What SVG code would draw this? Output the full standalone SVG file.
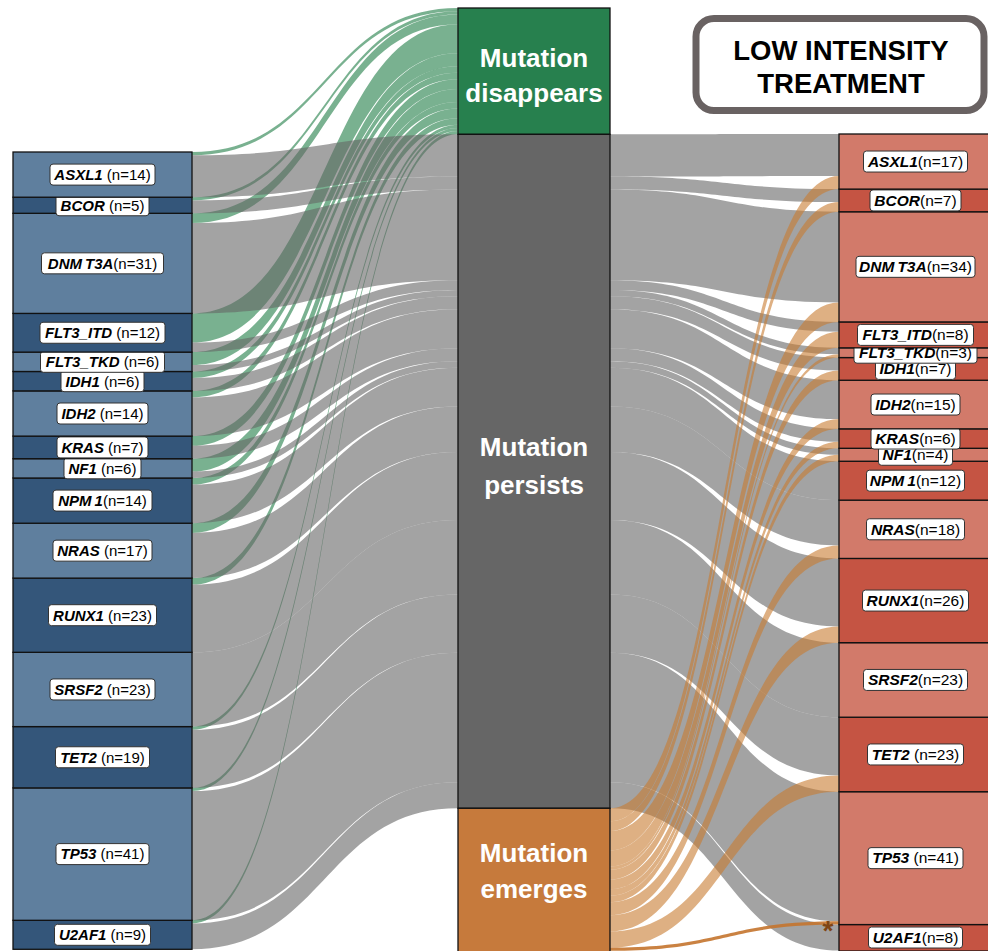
<svg xmlns="http://www.w3.org/2000/svg" width="988" height="951" viewBox="0 0 988 951">
  <style>
    .fg { fill: #1f7d46; fill-opacity: 0.6; }
    .fp { fill: #666666; fill-opacity: 0.6; }
    .fe { fill: #c87b30; fill-opacity: 0.6; }
    .fe-strong { fill: #c4742e; fill-opacity: 0.9; }
    .node { stroke: #111111; stroke-width: 1.3; }
    .bl { fill: #5f7f9e; }
    .bd { fill: #34567a; }
    .rl { fill: #d27a6a; }
    .rd { fill: #c55443; }
    .lab { fill: #ffffff; stroke: #333333; stroke-width: 1; }
    .t { font-family: "Liberation Sans", Arial, sans-serif; font-size: 15px; fill: #000000; }
    .tr { font-family: "Liberation Sans", Arial, sans-serif; font-size: 15.5px; fill: #000000; }
    .g { font-weight: bold; font-style: italic; }
    .mid { font-family: "Liberation Sans", Arial, sans-serif; font-size: 26px; font-weight: bold; fill: #ffffff; }
    .title { font-family: "Liberation Sans", Arial, sans-serif; font-size: 27.5px; font-weight: bold; fill: #000000; }
  </style>

  <!-- flows between the columns -->
  <g id="connectors">
    <g id="flows-disappear">
      <path class="fg" d="M192,152C325,152 325,8 458,8L458,11.24C325,11.24 325,155.2 192,155.2Z"/>
      <path class="fg" d="M192,197.2C325,197.2 325,11.24 458,11.24L458,14.48C325,14.48 325,200.4 192,200.4Z"/>
      <path class="fg" d="M192,213.3C325,213.3 325,14.48 458,14.48L458,24.2C325,24.2 325,223 192,223Z"/>
      <path class="fg" d="M192,313.4C325,313.4 325,24.2 458,24.2L458,53.36C325,53.36 325,342.5 192,342.5Z"/>
      <path class="fg" d="M192,352.1C325,352.1 325,53.36 458,53.36L458,66.32C325,66.32 325,365 192,365Z"/>
      <path class="fg" d="M192,371.5C325,371.5 325,66.32 458,66.32L458,72.8C325,72.8 325,378 192,378Z"/>
      <path class="fg" d="M192,390.9C325,390.9 325,72.8 458,72.8L458,79.28C325,79.28 325,397.4 192,397.4Z"/>
      <path class="fg" d="M192,436.1C325,436.1 325,79.28 458,79.28L458,89C325,89 325,445.8 192,445.8Z"/>
      <path class="fg" d="M192,458.7C325,458.7 325,89 458,89L458,101.96C325,101.96 325,471.6 192,471.6Z"/>
      <path class="fg" d="M192,478C325,478 325,101.96 458,101.96L458,108.44C325,108.44 325,484.5 192,484.5Z"/>
      <path class="fg" d="M192,523.2C325,523.2 325,108.44 458,108.44L458,118.16C325,118.16 325,532.9 192,532.9Z"/>
      <path class="fg" d="M192,578.1C325,578.1 325,118.16 458,118.16L458,124.64C325,124.64 325,584.6 192,584.6Z"/>
      <path class="fg" d="M192,726.6C325,726.6 325,124.64 458,124.64L458,127.88C325,127.88 325,729.8 192,729.8Z"/>
      <path class="fg" d="M192,787.9C325,787.9 325,127.88 458,127.88L458,131.12C325,131.12 325,791.1 192,791.1Z"/>
      <path class="fg" d="M192,920.3C325,920.3 325,131.12 458,131.12L458,134.36C325,134.36 325,923.5 192,923.5Z"/>
    </g>
    <g id="flows-persist-in">
      <path class="fp" d="M192,155.2C325,155.2 325,134.36 458,134.36L458,176.48C325,176.48 325,197.2 192,197.2Z"/>
      <path class="fp" d="M192,200.4C325,200.4 325,176.48 458,176.48L458,189.44C325,189.44 325,213.3 192,213.3Z"/>
      <path class="fp" d="M192,223C325,223 325,189.44 458,189.44L458,280.16C325,280.16 325,313.4 192,313.4Z"/>
      <path class="fp" d="M192,342.5C325,342.5 325,280.16 458,280.16L458,289.88C325,289.88 325,352.1 192,352.1Z"/>
      <path class="fp" d="M192,365C325,365 325,289.88 458,289.88L458,296.36C325,296.36 325,371.5 192,371.5Z"/>
      <path class="fp" d="M192,378C325,378 325,296.36 458,296.36L458,309.32C325,309.32 325,390.9 192,390.9Z"/>
      <path class="fp" d="M192,397.4C325,397.4 325,309.32 458,309.32L458,348.2C325,348.2 325,436.1 192,436.1Z"/>
      <path class="fp" d="M192,445.8C325,445.8 325,348.2 458,348.2L458,361.16C325,361.16 325,458.7 192,458.7Z"/>
      <path class="fp" d="M192,471.6C325,471.6 325,361.16 458,361.16L458,367.64C325,367.64 325,478 192,478Z"/>
      <path class="fp" d="M192,484.5C325,484.5 325,367.64 458,367.64L458,406.52C325,406.52 325,523.2 192,523.2Z"/>
      <path class="fp" d="M192,532.9C325,532.9 325,406.52 458,406.52L458,451.88C325,451.88 325,578.1 192,578.1Z"/>
      <path class="fp" d="M192,584.6C325,584.6 325,451.88 458,451.88L458,519.92C325,519.92 325,652.3 192,652.3Z"/>
      <path class="fp" d="M192,652.3C325,652.3 325,519.92 458,519.92L458,594.44C325,594.44 325,726.6 192,726.6Z"/>
      <path class="fp" d="M192,729.8C325,729.8 325,594.44 458,594.44L458,652.76C325,652.76 325,787.9 192,787.9Z"/>
      <path class="fp" d="M192,791.1C325,791.1 325,652.76 458,652.76L458,782.36C325,782.36 325,920.3 192,920.3Z"/>
      <path class="fp" d="M192,923.5C325,923.5 325,782.36 458,782.36L458,808.28C325,808.28 325,949.3 192,949.3Z"/>
    </g>
    <g id="flows-persist-out">
      <path class="fp" d="M610,134.36C724.5,134.36 724.5,134 839,134L839,176.12C724.5,176.12 724.5,176.48 610,176.48Z"/>
      <path class="fp" d="M610,176.48C724.5,176.48 724.5,189.08 839,189.08L839,202.04C724.5,202.04 724.5,189.44 610,189.44Z"/>
      <path class="fp" d="M610,189.44C724.5,189.44 724.5,211.76 839,211.76L839,302.48C724.5,302.48 724.5,280.16 610,280.16Z"/>
      <path class="fp" d="M610,280.16C724.5,280.16 724.5,321.92 839,321.92L839,331.64C724.5,331.64 724.5,289.88 610,289.88Z"/>
      <path class="fp" d="M610,289.88C724.5,289.88 724.5,347.84 839,347.84L839,354.32C724.5,354.32 724.5,296.36 610,296.36Z"/>
      <path class="fp" d="M610,296.36C724.5,296.36 724.5,357.56 839,357.56L839,370.52C724.5,370.52 724.5,309.32 610,309.32Z"/>
      <path class="fp" d="M610,309.32C724.5,309.32 724.5,380.24 839,380.24L839,419.12C724.5,419.12 724.5,348.2 610,348.2Z"/>
      <path class="fp" d="M610,348.2C724.5,348.2 724.5,428.84 839,428.84L839,441.8C724.5,441.8 724.5,361.16 610,361.16Z"/>
      <path class="fp" d="M610,361.16C724.5,361.16 724.5,448.28 839,448.28L839,454.76C724.5,454.76 724.5,367.64 610,367.64Z"/>
      <path class="fp" d="M610,367.64C724.5,367.64 724.5,461.24 839,461.24L839,500.12C724.5,500.12 724.5,406.52 610,406.52Z"/>
      <path class="fp" d="M610,406.52C724.5,406.52 724.5,500.12 839,500.12L839,545.48C724.5,545.48 724.5,451.88 610,451.88Z"/>
      <path class="fp" d="M610,451.88C724.5,451.88 724.5,558.44 839,558.44L839,626.48C724.5,626.48 724.5,519.92 610,519.92Z"/>
      <path class="fp" d="M610,519.92C724.5,519.92 724.5,642.68 839,642.68L839,717.2C724.5,717.2 724.5,594.44 610,594.44Z"/>
      <path class="fp" d="M610,594.44C724.5,594.44 724.5,717.2 839,717.2L839,775.52C724.5,775.52 724.5,652.76 610,652.76Z"/>
      <path class="fp" d="M610,652.76C724.5,652.76 724.5,791.72 839,791.72L839,921.32C724.5,921.32 724.5,782.36 610,782.36Z"/>
      <path class="fp" d="M610,782.36C724.5,782.36 724.5,924.56 839,924.56L839,950.48C724.5,950.48 724.5,808.28 610,808.28Z"/>
    </g>
    <g id="flows-emerge">
      <path class="fe" d="M610,808.28C724.5,808.28 724.5,176.12 839,176.12L839,189.08C724.5,189.08 724.5,821.24 610,821.24Z"/>
      <path class="fe" d="M610,821.24C724.5,821.24 724.5,202.04 839,202.04L839,211.76C724.5,211.76 724.5,830.96 610,830.96Z"/>
      <path class="fe" d="M610,830.96C724.5,830.96 724.5,302.48 839,302.48L839,321.92C724.5,321.92 724.5,850.4 610,850.4Z"/>
      <path class="fe" d="M610,850.4C724.5,850.4 724.5,331.64 839,331.64L839,347.84C724.5,347.84 724.5,866.6 610,866.6Z"/>
      <path class="fe" d="M610,866.6C724.5,866.6 724.5,354.32 839,354.32L839,357.56C724.5,357.56 724.5,869.84 610,869.84Z"/>
      <path class="fe" d="M610,869.84C724.5,869.84 724.5,370.52 839,370.52L839,380.24C724.5,380.24 724.5,879.56 610,879.56Z"/>
      <path class="fe" d="M610,879.56C724.5,879.56 724.5,419.12 839,419.12L839,428.84C724.5,428.84 724.5,889.28 610,889.28Z"/>
      <path class="fe" d="M610,889.28C724.5,889.28 724.5,441.8 839,441.8L839,448.28C724.5,448.28 724.5,895.76 610,895.76Z"/>
      <path class="fe" d="M610,895.76C724.5,895.76 724.5,454.76 839,454.76L839,461.24C724.5,461.24 724.5,902.24 610,902.24Z"/>
      <path class="fe" d="M610,902.24C724.5,902.24 724.5,545.48 839,545.48L839,558.44C724.5,558.44 724.5,915.2 610,915.2Z"/>
      <path class="fe" d="M610,915.2C724.5,915.2 724.5,626.48 839,626.48L839,642.68C724.5,642.68 724.5,931.4 610,931.4Z"/>
      <path class="fe" d="M610,931.4C724.5,931.4 724.5,775.52 839,775.52L839,791.72C724.5,791.72 724.5,947.6 610,947.6Z"/>
      <path class="fe-strong" d="M610,947.6C724.5,947.6 724.5,921.32 839,921.32L839,924.56C724.5,924.56 724.5,950.84 610,950.84Z"/>
    </g>
  </g>

  <!-- middle column -->
  <g id="node-disappears">
    <rect class="node" x="458" y="8" width="152" height="126.36" fill="#27804e"/>
    <text class="mid" x="534" y="67" text-anchor="middle">Mutation</text>
    <text class="mid" x="534" y="102" text-anchor="middle">disappears</text>
  </g>
  <g id="node-persists">
    <rect class="node" x="458" y="134.36" width="152" height="673.92" fill="#666666"/>
    <text class="mid" x="534" y="456" text-anchor="middle">Mutation</text>
    <text class="mid" x="534" y="494" text-anchor="middle">persists</text>
  </g>
  <g id="node-emerges">
    <rect class="node" x="458" y="808.28" width="152" height="150" fill="#c67a3c"/>
    <text class="mid" x="534" y="862" text-anchor="middle">Mutation</text>
    <text class="mid" x="534" y="898" text-anchor="middle">emerges</text>
  </g>

  <!-- left column (before treatment) -->
  <g id="left-U2AF1"><rect class="node bd" x="13" y="920.3" width="179" height="29"/><rect class="lab" x="54.5" y="924.3" width="96" height="21" rx="3"/><text class="t" x="102.5" y="940.1" text-anchor="middle"><tspan class="g">U2AF1</tspan> (n=9)</text></g>
  <g id="left-TP53"><rect class="node bl" x="13" y="787.9" width="179" height="132.4"/><rect class="lab" x="56" y="843.6" width="93" height="21" rx="3"/><text class="t" x="102.5" y="859.4" text-anchor="middle"><tspan class="g">TP53</tspan> (n=41)</text></g>
  <g id="left-TET2"><rect class="node bd" x="13" y="726.6" width="179" height="61.3"/><rect class="lab" x="55.5" y="746.75" width="94" height="21" rx="3"/><text class="t" x="102.5" y="762.55" text-anchor="middle"><tspan class="g">TET2</tspan> (n=19)</text></g>
  <g id="left-SRSF2"><rect class="node bl" x="13" y="652.3" width="179" height="74.3"/><rect class="lab" x="50" y="678.95" width="105" height="21" rx="3"/><text class="t" x="102.5" y="694.75" text-anchor="middle"><tspan class="g">SRSF2</tspan> (n=23)</text></g>
  <g id="left-RUNX1"><rect class="node bd" x="13" y="578.1" width="179" height="74.2"/><rect class="lab" x="48.5" y="604.7" width="108" height="21" rx="3"/><text class="t" x="102.5" y="620.5" text-anchor="middle"><tspan class="g">RUNX1</tspan> (n=23)</text></g>
  <g id="left-NRAS"><rect class="node bl" x="13" y="523.2" width="179" height="54.9"/><rect class="lab" x="53" y="540.15" width="99" height="21" rx="3"/><text class="t" x="102.5" y="555.95" text-anchor="middle"><tspan class="g">NRAS</tspan> (n=17)</text></g>
  <g id="left-NPM1"><rect class="node bd" x="13" y="478" width="179" height="45.2"/><rect class="lab" x="53" y="490.1" width="99" height="21" rx="3"/><text class="t" x="102.5" y="505.9" text-anchor="middle"><tspan class="g">NPM</tspan><tspan class="g" dx="3">1</tspan>(n=14)</text></g>
  <g id="left-NF1"><rect class="node bl" x="13" y="458.7" width="179" height="19.3"/><rect class="lab" x="64" y="457.85" width="77" height="21" rx="3"/><text class="t" x="102.5" y="473.65" text-anchor="middle"><tspan class="g">NF1</tspan> (n=6)</text></g>
  <g id="left-KRAS"><rect class="node bd" x="13" y="436.1" width="179" height="22.6"/><rect class="lab" x="57" y="436.9" width="91" height="21" rx="3"/><text class="t" x="102.5" y="452.7" text-anchor="middle"><tspan class="g">KRAS</tspan> (n=7)</text></g>
  <g id="left-IDH2"><rect class="node bl" x="13" y="390.9" width="179" height="45.2"/><rect class="lab" x="57" y="403" width="91" height="21" rx="3"/><text class="t" x="102.5" y="418.8" text-anchor="middle"><tspan class="g">IDH2</tspan> (n=14)</text></g>
  <g id="left-IDH1"><rect class="node bd" x="13" y="371.5" width="179" height="19.4"/><rect class="lab" x="61" y="370.7" width="83" height="21" rx="3"/><text class="t" x="102.5" y="386.5" text-anchor="middle"><tspan class="g">IDH1</tspan> (n=6)</text></g>
  <g id="left-FLT3_TKD"><rect class="node bl" x="13" y="352.1" width="179" height="19.4"/><rect class="lab" x="40.5" y="351.3" width="124" height="21" rx="3"/><text class="t" x="102.5" y="367.1" text-anchor="middle"><tspan class="g">FLT3_TKD</tspan> (n=6)</text></g>
  <g id="left-FLT3_ITD"><rect class="node bd" x="13" y="313.4" width="179" height="38.7"/><rect class="lab" x="40" y="322.25" width="125" height="21" rx="3"/><text class="t" x="102.5" y="338.05" text-anchor="middle"><tspan class="g">FLT3_ITD</tspan> (n=12)</text></g>
  <g id="left-DNMT3A"><rect class="node bl" x="13" y="213.3" width="179" height="100.1"/><rect class="lab" x="41.5" y="252.85" width="122" height="21" rx="3"/><text class="t" x="102.5" y="268.65" text-anchor="middle"><tspan class="g">DNM</tspan><tspan class="g" dx="3">T3A</tspan>(n=31)</text></g>
  <g id="left-BCOR"><rect class="node bd" x="13" y="197.2" width="179" height="16.1"/><rect class="lab" x="56" y="194.75" width="93" height="21" rx="3"/><text class="t" x="102.5" y="210.55" text-anchor="middle"><tspan class="g">BCOR</tspan> (n=5)</text></g>
  <g id="left-ASXL1"><rect class="node bl" x="13" y="152" width="179" height="45.2"/><rect class="lab" x="50" y="164.1" width="105" height="21" rx="3"/><text class="t" x="102.5" y="179.9" text-anchor="middle"><tspan class="g">ASXL1</tspan> (n=14)</text></g>

  <!-- right column (after treatment) -->
  <g id="right-U2AF1"><rect class="node rd" x="839" y="924.56" width="160" height="26.5"/><rect class="lab" x="868.5" y="927.02" width="94" height="21" rx="3"/><text class="tr" x="915.5" y="942.82" text-anchor="middle"><tspan class="g">U2AF1</tspan>(n=8)</text></g>
  <g id="right-TP53"><rect class="node rl" x="839" y="791.72" width="160" height="132.84"/><rect class="lab" x="868" y="847.64" width="95" height="21" rx="3"/><text class="tr" x="915.5" y="863.44" text-anchor="middle"><tspan class="g">TP53</tspan> (n=41)</text></g>
  <g id="right-TET2"><rect class="node rd" x="839" y="717.2" width="160" height="74.52"/><rect class="lab" x="867.5" y="743.96" width="96" height="21" rx="3"/><text class="tr" x="915.5" y="759.76" text-anchor="middle"><tspan class="g">TET2</tspan> (n=23)</text></g>
  <g id="right-SRSF2"><rect class="node rl" x="839" y="642.68" width="160" height="74.52"/><rect class="lab" x="863.5" y="669.44" width="104" height="21" rx="3"/><text class="tr" x="915.5" y="685.24" text-anchor="middle"><tspan class="g">SRSF2</tspan>(n=23)</text></g>
  <g id="right-RUNX1"><rect class="node rd" x="839" y="558.44" width="160" height="84.24"/><rect class="lab" x="862.5" y="590.06" width="106" height="21" rx="3"/><text class="tr" x="915.5" y="605.86" text-anchor="middle"><tspan class="g">RUNX1</tspan>(n=26)</text></g>
  <g id="right-NRAS"><rect class="node rl" x="839" y="500.12" width="160" height="58.32"/><rect class="lab" x="866.5" y="518.78" width="98" height="21" rx="3"/><text class="tr" x="915.5" y="534.58" text-anchor="middle"><tspan class="g">NRAS</tspan>(n=18)</text></g>
  <g id="right-NPM1"><rect class="node rd" x="839" y="461.24" width="160" height="38.88"/><rect class="lab" x="866.5" y="470.18" width="98" height="21" rx="3"/><text class="tr" x="915.5" y="485.98" text-anchor="middle"><tspan class="g">NPM</tspan><tspan class="g" dx="3">1</tspan>(n=12)</text></g>
  <g id="right-NF1"><rect class="node rl" x="839" y="448.28" width="160" height="12.96"/><rect class="lab" x="878.5" y="444.26" width="74" height="21" rx="3"/><text class="tr" x="915.5" y="460.06" text-anchor="middle"><tspan class="g">NF1</tspan>(n=4)</text></g>
  <g id="right-KRAS"><rect class="node rd" x="839" y="428.84" width="160" height="19.44"/><rect class="lab" x="871" y="428.06" width="89" height="21" rx="3"/><text class="tr" x="915.5" y="443.86" text-anchor="middle"><tspan class="g">KRAS</tspan>(n=6)</text></g>
  <g id="right-IDH2"><rect class="node rl" x="839" y="380.24" width="160" height="48.6"/><rect class="lab" x="871" y="394.04" width="89" height="21" rx="3"/><text class="tr" x="915.5" y="409.84" text-anchor="middle"><tspan class="g">IDH2</tspan>(n=15)</text></g>
  <g id="right-IDH1"><rect class="node rd" x="839" y="357.56" width="160" height="22.68"/><rect class="lab" x="875.5" y="358.4" width="80" height="21" rx="3"/><text class="tr" x="915.5" y="374.2" text-anchor="middle"><tspan class="g">IDH1</tspan>(n=7)</text></g>
  <g id="right-FLT3_TKD"><rect class="node rl" x="839" y="347.84" width="160" height="9.72"/><rect class="lab" x="854" y="342.2" width="123" height="21" rx="3"/><text class="tr" x="915.5" y="358" text-anchor="middle"><tspan class="g">FLT3_TKD</tspan>(n=3)</text></g>
  <g id="right-FLT3_ITD"><rect class="node rd" x="839" y="321.92" width="160" height="25.92"/><rect class="lab" x="857.5" y="324.38" width="116" height="21" rx="3"/><text class="tr" x="915.5" y="340.18" text-anchor="middle"><tspan class="g">FLT3_ITD</tspan>(n=8)</text></g>
  <g id="right-DNMT3A"><rect class="node rl" x="839" y="211.76" width="160" height="110.16"/><rect class="lab" x="856" y="256.34" width="119" height="21" rx="3"/><text class="tr" x="915.5" y="272.14" text-anchor="middle"><tspan class="g">DNM</tspan><tspan class="g" dx="3">T3A</tspan>(n=34)</text></g>
  <g id="right-BCOR"><rect class="node rd" x="839" y="189.08" width="160" height="22.68"/><rect class="lab" x="870" y="189.92" width="91" height="21" rx="3"/><text class="tr" x="915.5" y="205.72" text-anchor="middle"><tspan class="g">BCOR</tspan>(n=7)</text></g>
  <g id="right-ASXL1"><rect class="node rl" x="839" y="134" width="160" height="55.08"/><rect class="lab" x="863.5" y="151.04" width="104" height="21" rx="3"/><text class="tr" x="915.5" y="166.84" text-anchor="middle"><tspan class="g">ASXL1</tspan>(n=17)</text></g>

  <!-- marker on the single emerging TP53 flow -->
  <text id="asterisk" x="828" y="940" text-anchor="middle" font-family="Liberation Sans, Arial, sans-serif" font-size="28" font-weight="bold" fill="#7f4514">*</text>

  <!-- treatment title -->
  <g id="title">
    <rect x="696" y="18.5" width="288" height="92" rx="18" fill="#ffffff" stroke="#696262" stroke-width="7"/>
    <text class="title" x="841" y="60" text-anchor="middle">LOW INTENSITY</text>
    <text class="title" x="841" y="93" text-anchor="middle">TREATMENT</text>
  </g>
</svg>
